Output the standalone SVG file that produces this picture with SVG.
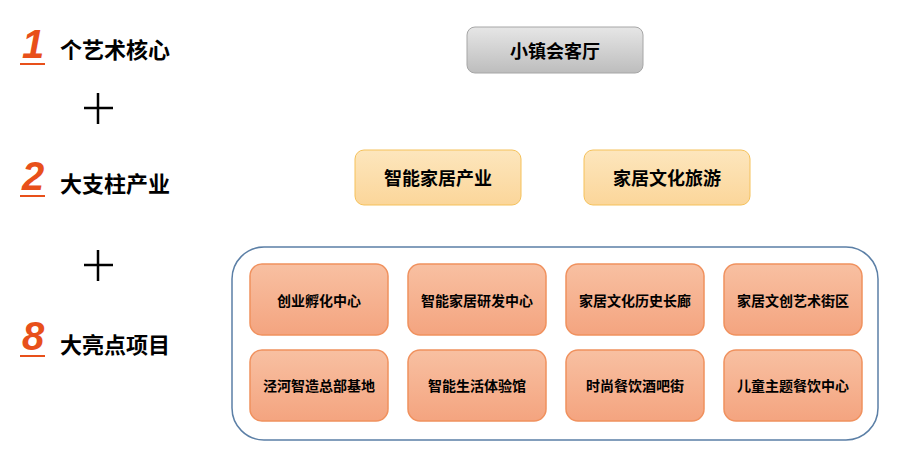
<svg xmlns="http://www.w3.org/2000/svg" width="900" height="451" viewBox="0 0 900 451">
<defs>
<linearGradient id="gg" x1="0" y1="0" x2="0" y2="1"><stop offset="0" stop-color="#e6e6e6"/><stop offset="1" stop-color="#bdbdbd"/></linearGradient>
<linearGradient id="yg" x1="0" y1="0" x2="0" y2="1"><stop offset="0" stop-color="#fde6bd"/><stop offset="1" stop-color="#fbd69a"/></linearGradient>
<linearGradient id="og" x1="0" y1="0" x2="0" y2="1"><stop offset="0" stop-color="#f8c0a2"/><stop offset="1" stop-color="#f4a47f"/></linearGradient>
<style>
text{font-family:"Noto Sans CJK SC","Liberation Sans",sans-serif;font-weight:bold;fill:#000;dominant-baseline:central}
.num{font-family:"Liberation Sans",sans-serif;font-style:italic;fill:#e8501a;font-size:40px}
.lbl{font-size:22px}
.g{fill:url(#og);stroke:#f0915e;stroke-width:1.5}
.s{font-size:14px;text-anchor:middle}
.m{font-size:18px;text-anchor:middle}
.u{stroke:#e8501a;stroke-width:2}
.p{stroke:#000;stroke-width:2.5}
</style>
</defs>
<g id="left">
<text class="num" x="22" y="44">1</text><line class="u" x1="20" y1="64" x2="45" y2="64"/><text class="lbl" x="60" y="48">个艺术核心</text>
<line class="p" x1="98" y1="93" x2="98" y2="124"/><line class="p" x1="84" y1="108" x2="113" y2="108"/>
<text class="num" x="22" y="176">2</text><line class="u" x1="20" y1="196" x2="45" y2="196"/><text class="lbl" x="60" y="182">大支柱产业</text>
<line class="p" x1="98" y1="250" x2="98" y2="281"/><line class="p" x1="84" y1="265" x2="113" y2="265"/>
<text class="num" x="22" y="336">8</text><line class="u" x1="20" y1="356" x2="45" y2="356"/><text class="lbl" x="60" y="343">大亮点项目</text>
</g>
<g id="hall"><rect x="467" y="27" width="176" height="46" rx="8" fill="url(#gg)" stroke="#a6a6a6"/><text class="m" x="555" y="50" font-size="19">小镇会客厅</text></g>
<g id="ind1"><rect x="355" y="150" width="166" height="55" rx="9" fill="url(#yg)" stroke="#f5c15a"/><text class="m" x="438" y="177">智能家居产业</text></g>
<g id="ind2"><rect x="584" y="150" width="166" height="55" rx="9" fill="url(#yg)" stroke="#f5c15a"/><text class="m" x="667" y="177">家居文化旅游</text></g>
<g id="container"><rect x="232" y="247" width="646" height="193" rx="32" fill="#fff" stroke="#5b7fa6" stroke-width="1.5"/></g>
<g id="p1"><rect class="g" x="250" y="264" width="138" height="71" rx="12"/><text class="s" x="319" y="300">创业孵化中心</text></g>
<g id="p2"><rect class="g" x="408" y="264" width="138" height="71" rx="12"/><text class="s" x="477" y="300">智能家居研发中心</text></g>
<g id="p3"><rect class="g" x="566" y="264" width="138" height="71" rx="12"/><text class="s" x="635" y="300">家居文化历史长廊</text></g>
<g id="p4"><rect class="g" x="724" y="264" width="138" height="71" rx="12"/><text class="s" x="793" y="300">家居文创艺术街区</text></g>
<g id="p5"><rect class="g" x="250" y="350" width="138" height="71" rx="12"/><text class="s" x="319" y="385">泾河智造总部基地</text></g>
<g id="p6"><rect class="g" x="408" y="350" width="138" height="71" rx="12"/><text class="s" x="477" y="385">智能生活体验馆</text></g>
<g id="p7"><rect class="g" x="566" y="350" width="138" height="71" rx="12"/><text class="s" x="635" y="385">时尚餐饮酒吧街</text></g>
<g id="p8"><rect class="g" x="724" y="350" width="138" height="71" rx="12"/><text class="s" x="793" y="385">儿童主题餐饮中心</text></g>
<g id="connectors"/>
</svg>
